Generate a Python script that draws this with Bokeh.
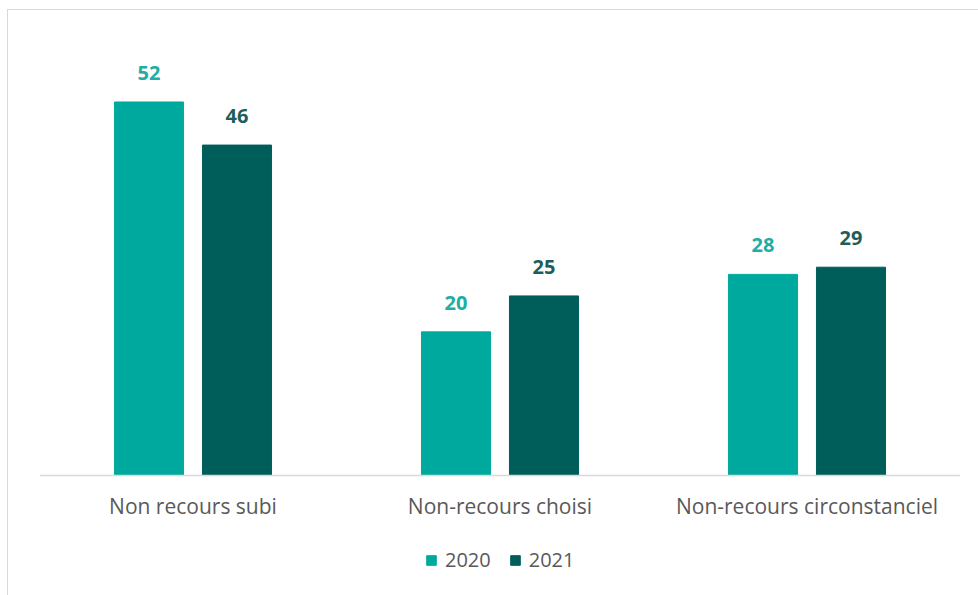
from bokeh.plotting import figure
from bokeh.models import ColumnDataSource, LabelSet, Legend, LegendItem, Range1d
from bokeh.core.properties import value
from bokeh.transform import dodge
from bokeh.embed import file_html
from bokeh.resources import INLINE

categories = ["Non recours subi", "Non-recours choisi", "Non-recours circonstanciel"]
values_2020 = [52, 20, 28]
values_2021 = [46, 25, 29]

src = ColumnDataSource(dict(
    cat=categories,
    v2020=values_2020,
    v2021=values_2021,
    t2020=[str(v) for v in values_2020],
    t2021=[str(v) for v in values_2021],
))

FONT = "Open Sans"
BFONT = "Open Sans"
C2020 = "#00A99D"
C2021 = "#005E5A"

p = figure(x_range=categories, y_range=Range1d(-16.84, 60), width=971, height=586,
           output_backend="svg", toolbar_location=None,
           min_border_left=31, min_border_right=19, min_border_top=34, min_border_bottom=0)
p.margin = (9, 0, 0, 7)
p.styles = {"border-left": "1.5px solid #d9d9d9", "border-top": "1.5px solid #d9d9d9"}
p.outline_line_color = None
p.grid.grid_line_color = None
p.yaxis.visible = False

r1 = p.vbar(x=dodge("cat", -0.1433, range=p.x_range), top="v2020", width=0.225,
            source=src, color=C2020)
r2 = p.vbar(x=dodge("cat", 0.1433, range=p.x_range), top="v2021", width=0.225,
            source=src, color=C2021)

p.add_layout(LabelSet(x=dodge("cat", -0.1433, range=p.x_range), y="v2020", text="t2020",
                      source=src, text_align="center", text_baseline="alphabetic", y_offset=22,
                      text_font=value(BFONT), text_font_size="20px", text_font_style="bold",
                      text_color="#20ADA3"))
p.add_layout(LabelSet(x=dodge("cat", 0.1433, range=p.x_range), y="v2021", text="t2021",
                      source=src, text_align="center", text_baseline="alphabetic", y_offset=22,
                      text_font=value(BFONT), text_font_size="20px", text_font_style="bold",
                      text_color="#1D5E5A"))

ax = p.xaxis[0]
ax.fixed_location = 0
ax.axis_line_color = "#d9d9d9"
ax.axis_line_width = 1.5
ax.major_tick_line_color = None
ax.minor_tick_line_color = None
ax.major_label_standoff = 10
ax.major_label_text_font = FONT
ax.major_label_text_font_size = "21px"
ax.major_label_text_color = "#595959"

legend = Legend(items=[LegendItem(label="2020", renderers=[r1]),
                       LegendItem(label="2021", renderers=[r2])],
                orientation="horizontal", location=(386, 23),
                padding=0, spacing=18, margin=0,
                glyph_width=12, glyph_height=12, label_standoff=8,
                label_text_font=FONT, label_text_font_size="20px",
                label_text_color="#595959", border_line_color=None,
                background_fill_alpha=0)
p.add_layout(legend)

open("out.html", "w").write(file_html(p, INLINE))
